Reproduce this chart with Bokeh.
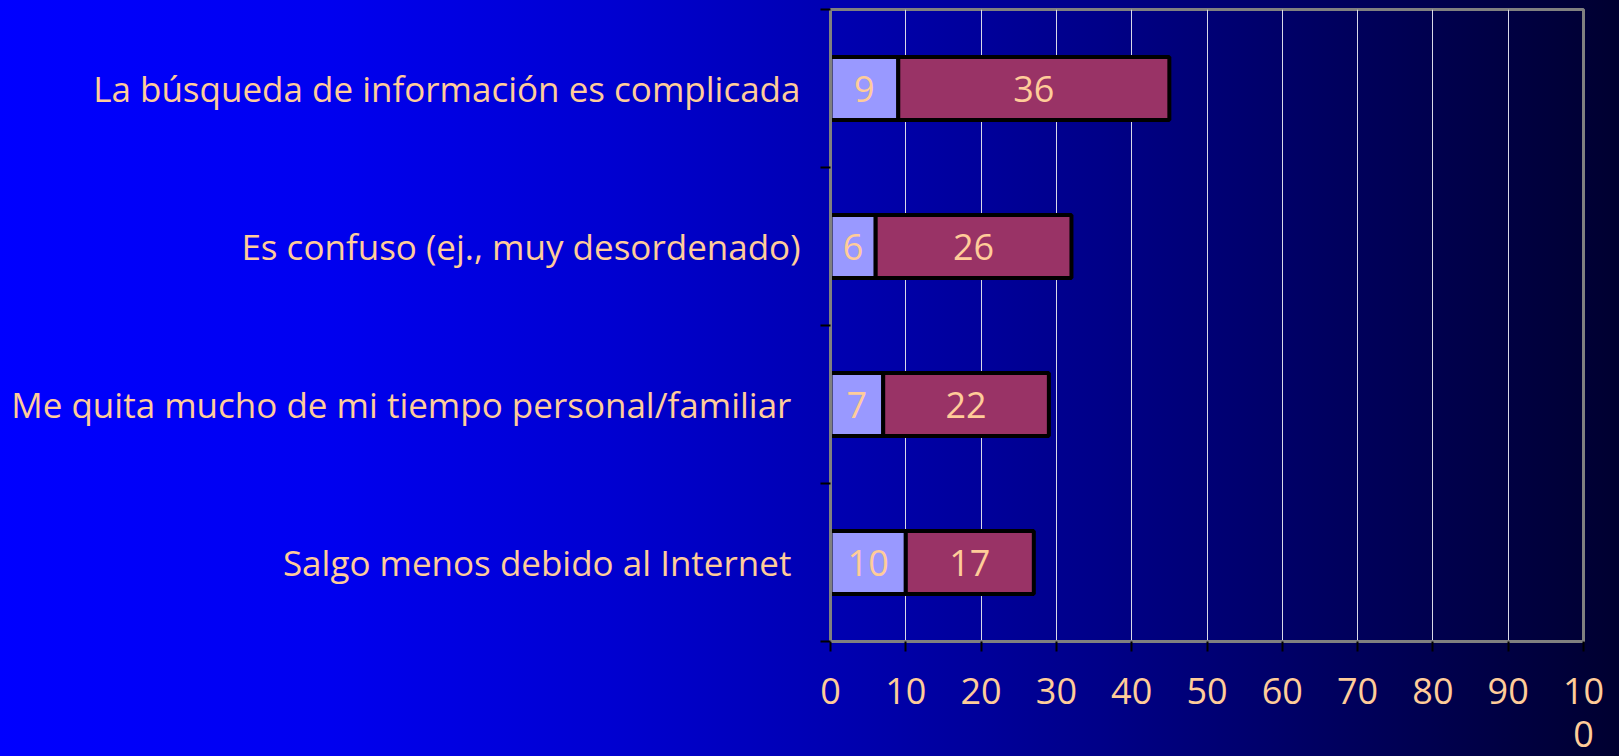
from bokeh.plotting import figure
from bokeh.models import FixedTicker, Range1d, ColumnDataSource
from bokeh.core.properties import value
from bokeh.embed import file_html
from bokeh.resources import INLINE

# ---- data (top to bottom) ----
categories = [
    "La búsqueda de información es complicada",
    "Es confuso (ej., muy desordenado)",
    "Me quita mucho de mi tiempo personal/familiar ",
    "Salgo menos debido al Internet ",
]
series_a = [9, 6, 7, 10]
series_b = [36, 26, 22, 17]
x_ticks = [0, 10, 20, 30, 40, 50, 60, 70, 80, 90, 100]
x_tick_labels = {100: "10\n0"}

FONT = "Open Sans"
TXT = "#FFCC99"

n = len(categories)
ys = [n - i - 0.5 for i in range(n)]
a_left = [0] * n
a_right = series_a
b_left = series_a
b_right = [a + b for a, b in zip(series_a, series_b)]

src = ColumnDataSource(dict(
    y=ys, a_left=a_left, a_right=a_right, b_left=b_left, b_right=b_right,
    a_mid=[(l + r) / 2 for l, r in zip(a_left, a_right)],
    b_mid=[(l + r) / 2 for l, r in zip(b_left, b_right)],
    a_txt=[str(v) for v in series_a],
    b_txt=[str(v) for v in series_b],
))

p = figure(
    width=1619, height=771, output_backend="svg", toolbar_location=None,
    x_range=Range1d(0, 100), y_range=Range1d(0, n),
    min_border_left=830, min_border_right=36, min_border_top=9, min_border_bottom=130,
)
p.styles = {
    "position": "fixed", "left": "0px", "top": "0px",
    "background": "linear-gradient(to right, #0000ff 0%, #0000f0 20%, #0000d0 38%, #0000b0 52%, #000088 68%, #000060 82%, #000040 94%, #000030 100%)",
}
p.background_fill_alpha = 0
p.border_fill_alpha = 0
p.outline_line_color = "#808080"
p.outline_line_width = 3

p.hbar(y="y", left="a_left", right="a_right", height=0.4, source=src,
       fill_color="#9999FF", line_color="black", line_width=4)
p.hbar(y="y", left="b_left", right="b_right", height=0.4, source=src,
       fill_color="#993366", line_color="black", line_width=4)

for xcol, tcol in (("a_mid", "a_txt"), ("b_mid", "b_txt")):
    p.text(x=xcol, y="y", text=tcol, source=src, text_align="center",
           text_baseline="middle", text_color=TXT,
           text_font=value(FONT), text_font_size="36px")

# x axis
p.xaxis.ticker = FixedTicker(ticks=x_ticks)
p.xaxis.major_label_overrides = x_tick_labels
p.xaxis.major_label_text_font = FONT
p.xaxis.major_label_text_font_size = "36px"
p.xaxis.major_label_text_line_height = 0.88
p.xaxis.major_label_text_color = TXT
p.xaxis.major_label_standoff = 14
p.xaxis.axis_line_color = "#808080"
p.xaxis.axis_line_width = 3
p.xaxis.major_tick_line_color = "black"
p.xaxis.major_tick_line_width = 2
p.xaxis.major_tick_in = 0
p.xaxis.major_tick_out = 10
p.xaxis.minor_tick_line_color = None

# y axis: labels at band centres, tick marks at band boundaries
p.yaxis.ticker = FixedTicker(ticks=ys, minor_ticks=list(range(n + 1)))
p.yaxis.major_label_overrides = {
    y: (c.rstrip() + "\u00a0" if c.endswith(" ") else c) for y, c in zip(ys, categories)
}
p.yaxis.major_label_text_font = FONT
p.yaxis.major_label_text_font_size = "35px"
p.yaxis.major_label_text_color = TXT
p.yaxis.major_label_standoff = 20
p.yaxis.axis_line_color = "#808080"
p.yaxis.axis_line_width = 3
p.yaxis.major_tick_line_color = None
p.yaxis.major_tick_in = 0
p.yaxis.major_tick_out = 0
p.yaxis.minor_tick_line_color = "black"
p.yaxis.minor_tick_line_width = 2
p.yaxis.minor_tick_in = 0
p.yaxis.minor_tick_out = 10

p.xgrid.ticker = FixedTicker(ticks=x_ticks)
p.xgrid.grid_line_color = "#d8d8e8"
p.xgrid.grid_line_width = 1
p.ygrid.grid_line_color = None

open("out.html", "w", encoding="utf-8").write(file_html(p, INLINE, title="chart"))
